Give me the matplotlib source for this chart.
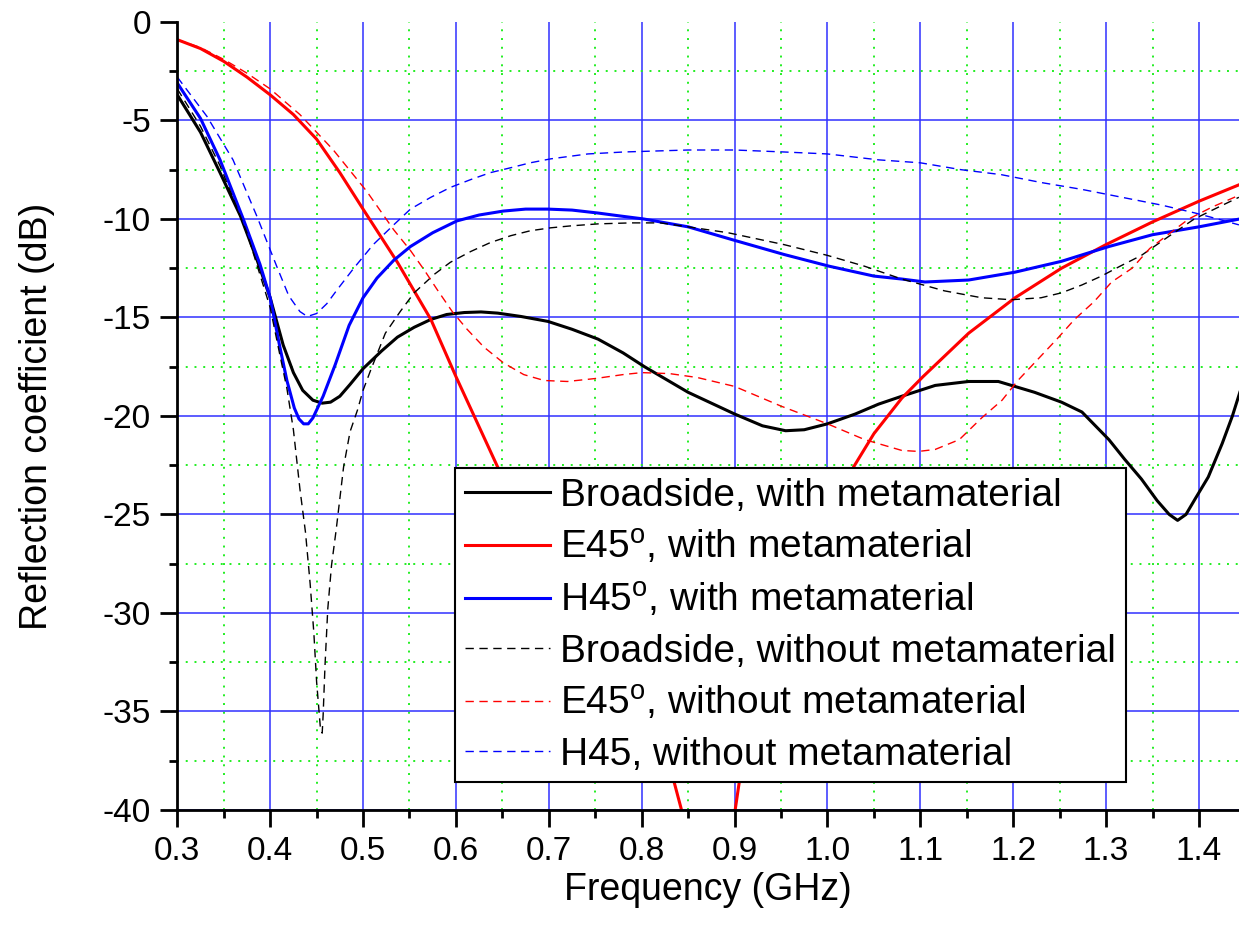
import matplotlib
matplotlib.use("Agg")
import matplotlib.pyplot as plt
from matplotlib.ticker import MultipleLocator, FormatStrFormatter

plt.rcParams['font.family'] = ['Liberation Sans', 'DejaVu Sans']
plt.rcParams['axes.unicode_minus'] = False
plt.rcParams['mathtext.fontset'] = 'custom'
plt.rcParams['mathtext.rm'] = 'Liberation Sans'

# Broadside, with metamaterial
f_bs = [0.300, 0.325, 0.346, 0.368, 0.386, 0.400, 0.414, 0.425, 0.435, 0.446,
        0.456, 0.465, 0.475, 0.486, 0.500, 0.520, 0.537, 0.555, 0.573, 0.590,
        0.609, 0.627, 0.645, 0.670, 0.699, 0.725, 0.753, 0.780, 0.803, 0.850,
        0.900, 0.930, 0.955, 0.975, 1.000, 1.030, 1.055, 1.080, 1.116, 1.152,
        1.184, 1.223, 1.252, 1.274, 1.303, 1.320, 1.338, 1.355, 1.368, 1.377,
        1.386, 1.396, 1.410, 1.425, 1.436, 1.444]
s_bs = [-3.7, -5.6, -7.65, -9.85, -12.1, -14.0, -16.4, -17.8, -18.7, -19.2,
        -19.35, -19.3, -19.0, -18.4, -17.6, -16.7, -16.0, -15.5, -15.1, -14.85,
        -14.75, -14.72, -14.78, -14.95, -15.2, -15.6, -16.1, -16.8, -17.5, -18.8,
        -19.9, -20.5, -20.75, -20.7, -20.4, -19.9, -19.4, -19.0, -18.45, -18.25,
        -18.25, -18.8, -19.3, -19.8, -21.2, -22.2, -23.2, -24.3, -25.0, -25.3,
        -25.0, -24.2, -23.1, -21.4, -20.0, -18.8]

# E45, with metamaterial
f_e = [0.300, 0.325, 0.350, 0.375, 0.400, 0.425, 0.450, 0.475, 0.500, 0.537,
       0.573, 0.600, 0.623, 0.645, 0.700, 0.750, 0.800, 0.835, 0.844, 0.860,
       0.875, 0.890, 0.900, 0.905, 0.930, 0.960, 1.000, 1.028, 1.050, 1.080,
       1.103, 1.152, 1.202, 1.252, 1.300, 1.350, 1.400, 1.444]
s_e = [-0.9, -1.35, -2.0, -2.8, -3.7, -4.7, -5.95, -7.65, -9.5, -12.2,
       -15.1, -18.0, -20.35, -22.6, -26.8, -30.6, -34.8, -38.6, -40.2, -45.0,
       -48.0, -45.0, -40.2, -38.6, -33.5, -29.0, -25.0, -22.6, -20.9, -19.1,
       -18.0, -15.8, -14.0, -12.5, -11.3, -10.15, -9.1, -8.25]

# H45, with metamaterial
f_h = [0.300, 0.325, 0.346, 0.371, 0.389, 0.400, 0.410, 0.418, 0.426, 0.431,
       0.436, 0.441, 0.446, 0.457, 0.470, 0.485, 0.500, 0.515, 0.533, 0.551,
       0.575, 0.601, 0.625, 0.651, 0.675, 0.699, 0.725, 0.753, 0.777, 0.802,
       0.850, 0.901, 0.953, 1.002, 1.050, 1.080, 1.105, 1.152, 1.202, 1.252,
       1.303, 1.350, 1.400, 1.444]
s_h = [-3.1, -4.9, -7.0, -10.0, -12.3, -14.0, -16.4, -18.2, -19.6, -20.15,
       -20.4, -20.4, -20.1, -19.0, -17.4, -15.4, -14.0, -13.0, -12.1, -11.4,
       -10.7, -10.1, -9.8, -9.6, -9.5, -9.5, -9.55, -9.7, -9.85, -10.0,
       -10.4, -11.1, -11.8, -12.4, -12.9, -13.05, -13.2, -13.1, -12.7, -12.15,
       -11.4, -10.8, -10.4, -10.0]

# Broadside, without metamaterial
f_bs0 = [0.300, 0.325, 0.346, 0.375, 0.400, 0.410, 0.418, 0.425, 0.432, 0.438,
         0.443, 0.447, 0.450, 0.454, 0.456, 0.457, 0.459, 0.462, 0.466, 0.471,
         0.479, 0.486, 0.494, 0.500, 0.508, 0.524, 0.540, 0.555, 0.577, 0.594,
         0.616, 0.637, 0.659, 0.680, 0.702, 0.724, 0.753, 0.788, 0.820, 0.850,
         0.893, 0.953, 1.000, 1.040, 1.080, 1.126, 1.166, 1.198, 1.230, 1.252,
         1.274, 1.295, 1.315, 1.338, 1.367, 1.395, 1.421, 1.443]
s_bs0 = [-3.4, -5.3, -7.3, -10.7, -14.5, -16.8, -18.6, -20.7, -23.7, -25.9,
         -28.5, -31.0, -33.5, -35.8, -36.1, -35.2, -32.7, -29.8, -27.6, -25.8,
         -22.6, -20.8, -19.7, -18.7, -17.7, -15.8, -14.7, -13.75, -12.8, -12.2,
         -11.65, -11.2, -10.85, -10.6, -10.45, -10.35, -10.25, -10.2, -10.2, -10.4,
         -10.7, -11.3, -11.85, -12.4, -13.05, -13.65, -14.0, -14.1, -14.0, -13.75,
         -13.35, -12.9, -12.4, -11.85, -10.9, -10.0, -9.4, -8.9]

# E45, without metamaterial
f_e0 = [0.300, 0.325, 0.350, 0.375, 0.400, 0.432, 0.468, 0.504, 0.533, 0.551,
        0.566, 0.580, 0.596, 0.612, 0.630, 0.651, 0.673, 0.695, 0.720, 0.750,
        0.780, 0.800, 0.830, 0.860, 0.900, 0.950, 1.000, 1.040, 1.080, 1.098,
        1.116, 1.142, 1.166, 1.188, 1.205, 1.227, 1.247, 1.266, 1.287, 1.306,
        1.328, 1.347, 1.389, 1.414, 1.443]
s_e0 = [-0.9, -1.3, -1.9, -2.6, -3.4, -4.7, -6.5, -8.6, -10.55, -11.6,
        -12.6, -13.6, -14.7, -15.6, -16.5, -17.3, -17.9, -18.2, -18.25, -18.1,
        -17.9, -17.8, -17.85, -18.05, -18.5, -19.5, -20.4, -21.2, -21.75, -21.8,
        -21.7, -21.2, -20.1, -19.2, -18.2, -17.1, -16.1, -15.1, -14.2, -13.2,
        -12.5, -11.5, -10.0, -9.4, -8.8]

# H45, without metamaterial
f_h0 = [0.300, 0.332, 0.360, 0.386, 0.407, 0.420, 0.432, 0.440, 0.450, 0.461,
        0.472, 0.490, 0.511, 0.533, 0.551, 0.573, 0.594, 0.616, 0.637, 0.659,
        0.680, 0.702, 0.742, 0.781, 0.850, 0.900, 0.953, 1.000, 1.055, 1.100,
        1.144, 1.187, 1.230, 1.274, 1.317, 1.360, 1.396, 1.420, 1.443]
s_h0 = [-2.8, -4.8, -7.0, -9.9, -12.4, -13.9, -14.7, -14.95, -14.8, -14.3,
        -13.6, -12.5, -11.3, -10.3, -9.5, -8.9, -8.4, -8.0, -7.65, -7.4,
        -7.15, -6.95, -6.7, -6.6, -6.5, -6.5, -6.6, -6.7, -7.0, -7.15,
        -7.5, -7.75, -8.15, -8.5, -8.9, -9.3, -9.7, -10.0, -10.3]

labels = ['Broadside, with metamaterial',
          'E45$^{\\mathregular{o}}$, with metamaterial',
          'H45$^{\\mathregular{o}}$, with metamaterial',
          'Broadside, without metamaterial',
          'E45$^{\\mathregular{o}}$, without metamaterial',
          'H45, without metamaterial']

fig = plt.figure(figsize=(12.39, 9.34), dpi=100)
ax = fig.add_axes([0.1431, 0.1328, 0.8569, 0.8437])

dash = (0, (6, 4))
ax.plot(f_bs, s_bs, color='black', lw=2.2, label=labels[0])
ax.plot(f_e, s_e, color='#ff0000', lw=2.2, label=labels[1])
ax.plot(f_h, s_h, color='#0000ff', lw=2.2, label=labels[2])
ax.plot(f_bs0, s_bs0, color='black', lw=1.0, linestyle=dash, label=labels[3])
ax.plot(f_e0, s_e0, color='#ff0000', lw=1.0, linestyle=dash, label=labels[4])
ax.plot(f_h0, s_h0, color='#0000ff', lw=1.0, linestyle=dash, label=labels[5])

ax.set_xlim(0.3, 1.4431)
ax.set_ylim(-40, 0)
ax.xaxis.set_major_locator(MultipleLocator(0.1))
ax.xaxis.set_minor_locator(MultipleLocator(0.05))
ax.yaxis.set_major_locator(MultipleLocator(5))
ax.yaxis.set_minor_locator(MultipleLocator(2.5))
ax.xaxis.set_major_formatter(FormatStrFormatter('%.1f'))
ax.yaxis.set_major_formatter(FormatStrFormatter('%d'))

ax.set_axisbelow(True)
ax.grid(which='major', color='#3030ff', lw=1.1, linestyle='-')
ax.grid(which='minor', color='#22ee22', lw=1.4, linestyle=(0, (1, 3.5)))
# no grid line along the top edge
for gl, t in zip(ax.yaxis.get_gridlines(), ax.get_yticks()):
    if t >= 0:
        gl.set_visible(False)

for side in ['top', 'right']:
    ax.spines[side].set_visible(False)
for side in ['left', 'bottom']:
    ax.spines[side].set_linewidth(2.0)

ax.tick_params(which='major', direction='out', length=12, width=2.0,
               labelsize=24, pad=7)
ax.tick_params(which='minor', direction='out', length=6, width=2.0)

ax.set_xlabel('Frequency (GHz)', fontsize=27, labelpad=3)
ax.set_ylabel('Reflection coefficient (dB)', fontsize=27, labelpad=34)

leg = ax.legend(loc='upper left', bbox_to_anchor=(0.2616, 0.434),
                borderaxespad=0, fontsize=28, frameon=True, fancybox=False,
                edgecolor='black', framealpha=1, handlelength=2.2,
                handletextpad=0.25, labelspacing=0.36, borderpad=0.25)
leg.get_frame().set_linewidth(1.5)

fig.savefig('out.png', dpi=100)
